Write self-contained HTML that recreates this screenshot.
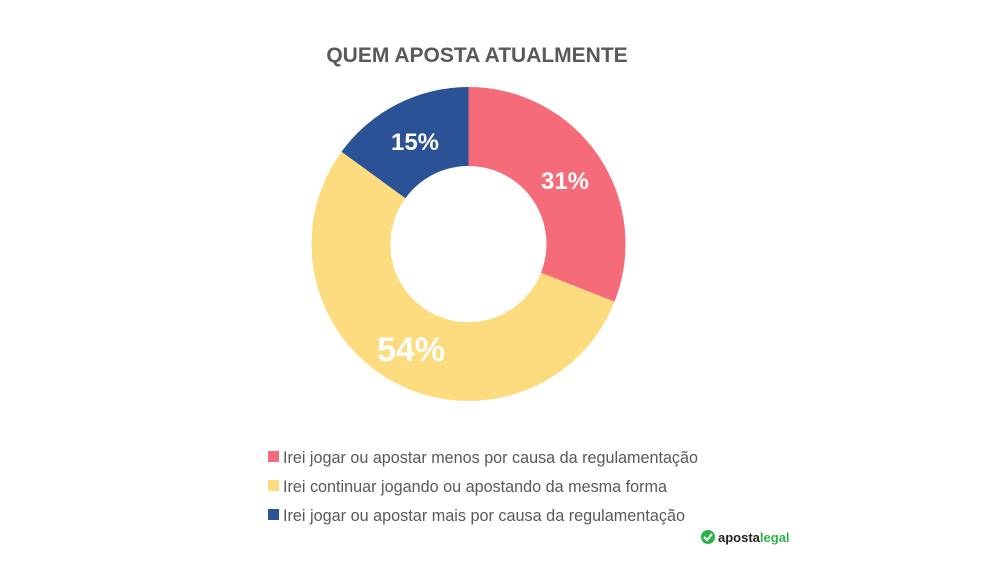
<!DOCTYPE html>
<html><head><meta charset="utf-8"><style>body{margin:0;background:#fff}svg{display:block}</style></head>
<body>
<svg width="995" height="575" viewBox="0 0 995 575" xmlns="http://www.w3.org/2000/svg" font-family="Liberation Sans, DejaVu Sans, sans-serif">
<rect width="995" height="575" fill="#fff"/>
<text x="477" y="62" text-anchor="middle" font-size="21" font-weight="bold" fill="#595959">QUEM APOSTA ATUALMENTE</text>
<path d="M468.5 87 A157 157 0 0 1 614.5 301.8 L541 272.7 A78 78 0 0 0 468.5 166 Z" fill="#f56b7a"/>
<path d="M614.5 301.8 A157 157 0 1 1 341.5 151.7 L405.4 198.2 A78 78 0 1 0 541 272.7 Z" fill="#fcdc7e"/>
<path d="M341.5 151.7 A157 157 0 0 1 468.5 87 L468.5 166 A78 78 0 0 0 405.4 198.2 Z" fill="#2b5296"/>
<text x="565" y="189" text-anchor="middle" font-size="24" font-weight="bold" fill="#fff">31%</text>
<text x="411" y="361" text-anchor="middle" font-size="34" font-weight="bold" fill="#fff">54%</text>
<text x="415" y="150" text-anchor="middle" font-size="24" font-weight="bold" fill="#fff">15%</text>
<rect x="268" y="451" width="11" height="11" fill="#f56b7a"/>
<rect x="268" y="480" width="11" height="11" fill="#fcdc7e"/>
<rect x="268" y="509" width="11" height="11" fill="#2b5296"/>
<g font-size="17" fill="#595959">
<text x="283" y="463" textLength="415" lengthAdjust="spacingAndGlyphs">Irei jogar ou apostar menos por causa da regulamentação</text>
<text x="283" y="492" textLength="384" lengthAdjust="spacingAndGlyphs">Irei continuar jogando ou apostando da mesma forma</text>
<text x="283" y="521" textLength="402" lengthAdjust="spacingAndGlyphs">Irei jogar ou apostar mais por causa da regulamentação</text>
</g>
<circle cx="708" cy="537" r="7" fill="#2cb34a"/>
<path d="M704 537 l3 3 l5 -6" stroke="#fff" stroke-width="2" fill="none"/>
<text x="718" y="542" font-size="13" font-weight="bold" fill="#222">aposta<tspan fill="#2cb34a">legal</tspan></text>
</svg>
</body></html>
